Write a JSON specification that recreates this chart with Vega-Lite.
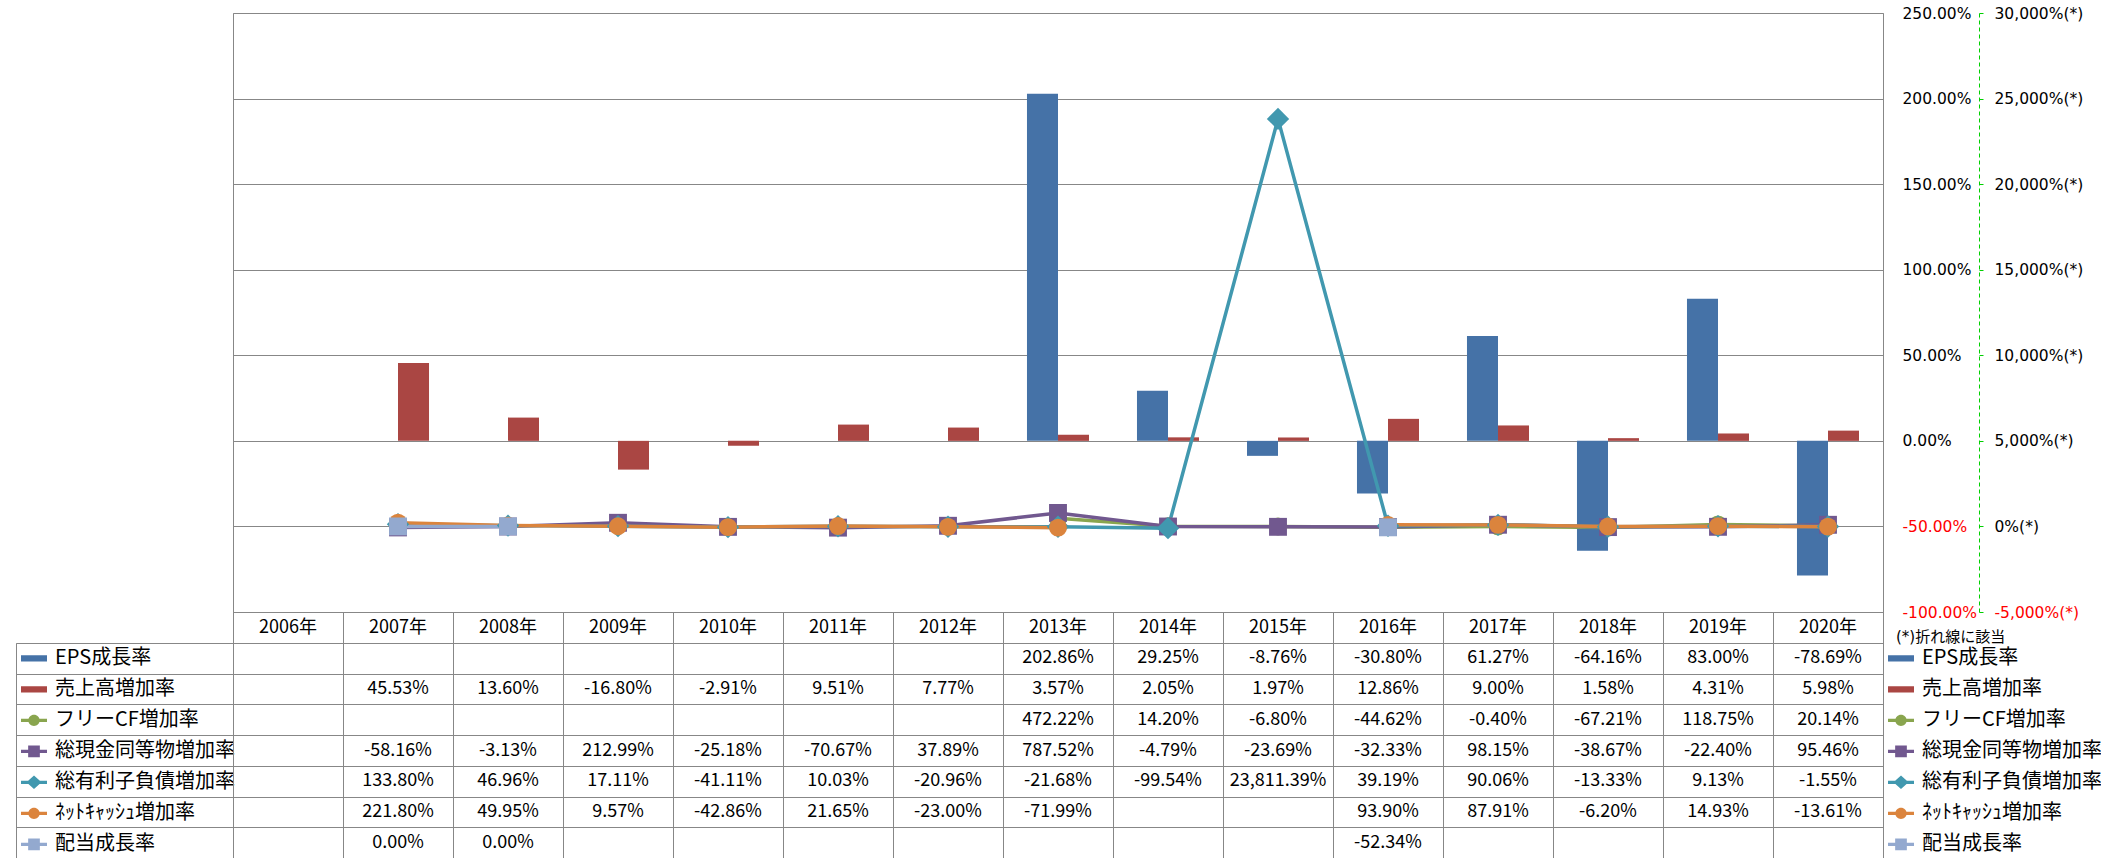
{
  "$schema": "https://vega.github.io/schema/vega-lite/v6.json",
  "padding": {"left": 15, "top": 5, "right": 0, "bottom": 0},
  "background": "white",
  "columns": 3,
  "align": "each",
  "bounds": "flush",
  "spacing": 0,
  "datasets": {
    "d": [
      {"series": "EPS成長率", "year": "2006年", "value": null},
      {"series": "EPS成長率", "year": "2007年", "value": null},
      {"series": "EPS成長率", "year": "2008年", "value": null},
      {"series": "EPS成長率", "year": "2009年", "value": null},
      {"series": "EPS成長率", "year": "2010年", "value": null},
      {"series": "EPS成長率", "year": "2011年", "value": null},
      {"series": "EPS成長率", "year": "2012年", "value": null},
      {"series": "EPS成長率", "year": "2013年", "value": 202.86},
      {"series": "EPS成長率", "year": "2014年", "value": 29.25},
      {"series": "EPS成長率", "year": "2015年", "value": -8.76},
      {"series": "EPS成長率", "year": "2016年", "value": -30.80},
      {"series": "EPS成長率", "year": "2017年", "value": 61.27},
      {"series": "EPS成長率", "year": "2018年", "value": -64.16},
      {"series": "EPS成長率", "year": "2019年", "value": 83.00},
      {"series": "EPS成長率", "year": "2020年", "value": -78.69},
      {"series": "売上高増加率", "year": "2006年", "value": null},
      {"series": "売上高増加率", "year": "2007年", "value": 45.53},
      {"series": "売上高増加率", "year": "2008年", "value": 13.60},
      {"series": "売上高増加率", "year": "2009年", "value": -16.80},
      {"series": "売上高増加率", "year": "2010年", "value": -2.91},
      {"series": "売上高増加率", "year": "2011年", "value": 9.51},
      {"series": "売上高増加率", "year": "2012年", "value": 7.77},
      {"series": "売上高増加率", "year": "2013年", "value": 3.57},
      {"series": "売上高増加率", "year": "2014年", "value": 2.05},
      {"series": "売上高増加率", "year": "2015年", "value": 1.97},
      {"series": "売上高増加率", "year": "2016年", "value": 12.86},
      {"series": "売上高増加率", "year": "2017年", "value": 9.00},
      {"series": "売上高増加率", "year": "2018年", "value": 1.58},
      {"series": "売上高増加率", "year": "2019年", "value": 4.31},
      {"series": "売上高増加率", "year": "2020年", "value": 5.98},
      {"series": "フリーCF増加率", "year": "2006年", "value": null},
      {"series": "フリーCF増加率", "year": "2007年", "value": null},
      {"series": "フリーCF増加率", "year": "2008年", "value": null},
      {"series": "フリーCF増加率", "year": "2009年", "value": null},
      {"series": "フリーCF増加率", "year": "2010年", "value": null},
      {"series": "フリーCF増加率", "year": "2011年", "value": null},
      {"series": "フリーCF増加率", "year": "2012年", "value": null},
      {"series": "フリーCF増加率", "year": "2013年", "value": 472.22},
      {"series": "フリーCF増加率", "year": "2014年", "value": 14.20},
      {"series": "フリーCF増加率", "year": "2015年", "value": -6.80},
      {"series": "フリーCF増加率", "year": "2016年", "value": -44.62},
      {"series": "フリーCF増加率", "year": "2017年", "value": -0.40},
      {"series": "フリーCF増加率", "year": "2018年", "value": -67.21},
      {"series": "フリーCF増加率", "year": "2019年", "value": 118.75},
      {"series": "フリーCF増加率", "year": "2020年", "value": 20.14},
      {"series": "総現金同等物増加率", "year": "2006年", "value": null},
      {"series": "総現金同等物増加率", "year": "2007年", "value": -58.16},
      {"series": "総現金同等物増加率", "year": "2008年", "value": -3.13},
      {"series": "総現金同等物増加率", "year": "2009年", "value": 212.99},
      {"series": "総現金同等物増加率", "year": "2010年", "value": -25.18},
      {"series": "総現金同等物増加率", "year": "2011年", "value": -70.67},
      {"series": "総現金同等物増加率", "year": "2012年", "value": 37.89},
      {"series": "総現金同等物増加率", "year": "2013年", "value": 787.52},
      {"series": "総現金同等物増加率", "year": "2014年", "value": -4.79},
      {"series": "総現金同等物増加率", "year": "2015年", "value": -23.69},
      {"series": "総現金同等物増加率", "year": "2016年", "value": -32.33},
      {"series": "総現金同等物増加率", "year": "2017年", "value": 98.15},
      {"series": "総現金同等物増加率", "year": "2018年", "value": -38.67},
      {"series": "総現金同等物増加率", "year": "2019年", "value": -22.40},
      {"series": "総現金同等物増加率", "year": "2020年", "value": 95.46},
      {"series": "総有利子負債増加率", "year": "2006年", "value": null},
      {"series": "総有利子負債増加率", "year": "2007年", "value": 133.80},
      {"series": "総有利子負債増加率", "year": "2008年", "value": 46.96},
      {"series": "総有利子負債増加率", "year": "2009年", "value": 17.11},
      {"series": "総有利子負債増加率", "year": "2010年", "value": -41.11},
      {"series": "総有利子負債増加率", "year": "2011年", "value": 10.03},
      {"series": "総有利子負債増加率", "year": "2012年", "value": -20.96},
      {"series": "総有利子負債増加率", "year": "2013年", "value": -21.68},
      {"series": "総有利子負債増加率", "year": "2014年", "value": -99.54},
      {"series": "総有利子負債増加率", "year": "2015年", "value": 23811.39},
      {"series": "総有利子負債増加率", "year": "2016年", "value": 39.19},
      {"series": "総有利子負債増加率", "year": "2017年", "value": 90.06},
      {"series": "総有利子負債増加率", "year": "2018年", "value": -13.33},
      {"series": "総有利子負債増加率", "year": "2019年", "value": 9.13},
      {"series": "総有利子負債増加率", "year": "2020年", "value": -1.55},
      {"series": "ﾈｯﾄｷｬｯｼｭ増加率", "year": "2006年", "value": null},
      {"series": "ﾈｯﾄｷｬｯｼｭ増加率", "year": "2007年", "value": 221.80},
      {"series": "ﾈｯﾄｷｬｯｼｭ増加率", "year": "2008年", "value": 49.95},
      {"series": "ﾈｯﾄｷｬｯｼｭ増加率", "year": "2009年", "value": 9.57},
      {"series": "ﾈｯﾄｷｬｯｼｭ増加率", "year": "2010年", "value": -42.86},
      {"series": "ﾈｯﾄｷｬｯｼｭ増加率", "year": "2011年", "value": 21.65},
      {"series": "ﾈｯﾄｷｬｯｼｭ増加率", "year": "2012年", "value": -23.00},
      {"series": "ﾈｯﾄｷｬｯｼｭ増加率", "year": "2013年", "value": -71.99},
      {"series": "ﾈｯﾄｷｬｯｼｭ増加率", "year": "2014年", "value": null},
      {"series": "ﾈｯﾄｷｬｯｼｭ増加率", "year": "2015年", "value": null},
      {"series": "ﾈｯﾄｷｬｯｼｭ増加率", "year": "2016年", "value": 93.90},
      {"series": "ﾈｯﾄｷｬｯｼｭ増加率", "year": "2017年", "value": 87.91},
      {"series": "ﾈｯﾄｷｬｯｼｭ増加率", "year": "2018年", "value": -6.20},
      {"series": "ﾈｯﾄｷｬｯｼｭ増加率", "year": "2019年", "value": 14.93},
      {"series": "ﾈｯﾄｷｬｯｼｭ増加率", "year": "2020年", "value": -13.61},
      {"series": "配当成長率", "year": "2006年", "value": null},
      {"series": "配当成長率", "year": "2007年", "value": 0.00},
      {"series": "配当成長率", "year": "2008年", "value": 0.00},
      {"series": "配当成長率", "year": "2009年", "value": null},
      {"series": "配当成長率", "year": "2010年", "value": null},
      {"series": "配当成長率", "year": "2011年", "value": null},
      {"series": "配当成長率", "year": "2012年", "value": null},
      {"series": "配当成長率", "year": "2013年", "value": null},
      {"series": "配当成長率", "year": "2014年", "value": null},
      {"series": "配当成長率", "year": "2015年", "value": null},
      {"series": "配当成長率", "year": "2016年", "value": -52.34},
      {"series": "配当成長率", "year": "2017年", "value": null},
      {"series": "配当成長率", "year": "2018年", "value": null},
      {"series": "配当成長率", "year": "2019年", "value": null},
      {"series": "配当成長率", "year": "2020年", "value": null}
    ]
  },
  "concat": [
    {
      "width": 217, "height": 599,
      "data": {"values": [{}]},
      "mark": {"type": "text"},
      "encoding": {"text": {"value": ""}}
    },
    {
      "width": 1650, "height": 599,
      "view": {"stroke": "#878787", "strokeWidth": 1},
      "data": {"name": "d"},
      "layer": [
        {
          "transform": [
            {"filter": "datum.series === 'EPS成長率' || datum.series === '売上高増加率'"},
            {"filter": "isValid(datum.value)"}
          ],
          "mark": {"type": "bar"},
          "encoding": {
            "x": {"field": "year", "type": "nominal", "axis": null,
              "scale": {"domain": ["2006年","2007年","2008年","2009年","2010年","2011年","2012年","2013年","2014年","2015年","2016年","2017年","2018年","2019年","2020年"], "paddingInner": 0.436, "paddingOuter": 0.218}},
            "xOffset": {"field": "series", "type": "nominal", "scale": {"domain": ["EPS成長率", "売上高増加率"], "paddingInner": 0, "paddingOuter": 0}},
            "y": {"field": "value", "type": "quantitative",
              "scale": {"domain": [-100, 250], "nice": false},
              "axis": {
                "orient": "right", "title": null, "domain": false, "ticks": false,
                "grid": true, "gridColor": "#878787", "gridWidth": 1,
                "values": [-100, -50, 0, 50, 100, 150, 200, 250],
                "labelExpr": "format(datum.value, '.2f') + '%'",
                "labelPadding": 19, "labelFont": "DejaVu Sans", "labelFontSize": 15.5, "labelAlign": "left",
                "labelColor": {"condition": {"test": "datum.value < 0", "value": "#FF0000"}, "value": "#000000"},
                "labelFlush": false, "labelOverlap": false, "labelBound": false, "labelBaseline": "middle"
              }},
            "color": {"field": "series", "type": "nominal", "legend": null,
              "scale": {"domain": ["EPS成長率","売上高増加率","フリーCF増加率","総現金同等物増加率","総有利子負債増加率","ﾈｯﾄｷｬｯｼｭ増加率","配当成長率"],
                        "range": ["#4572A7","#AA4643","#89A54E","#71588F","#4198AF","#DB843D","#93A9CF"]}}
          }
        },
        {
          "transform": [
            {"filter": "datum.series !== 'EPS成長率' && datum.series !== '売上高増加率'"}
          ],
          "encoding": {
            "x": {"field": "year", "type": "nominal", "axis": null},
            "y": {"field": "value", "type": "quantitative",
              "scale": {"domain": [-5000, 30000], "nice": false},
              "axis": {
                "orient": "right", "offset": 96, "title": null, "grid": false,
                "domain": true, "domainColor": "#00D000", "domainDash": [4, 3], "domainWidth": 1,
                "ticks": true, "tickColor": "#00D000", "tickSize": 4, "tickWidth": 1,
                "values": [-5000, 0, 5000, 10000, 15000, 20000, 25000, 30000],
                "labelExpr": "format(datum.value, ',') + '%(*)'",
                "labelPadding": 11, "labelFont": "DejaVu Sans", "labelFontSize": 15.5, "labelAlign": "left",
                "labelColor": {"condition": {"test": "datum.value < 0", "value": "#FF0000"}, "value": "#000000"},
                "labelFlush": false, "labelOverlap": false, "labelBound": false, "labelBaseline": "middle"
              }},
            "color": {"field": "series", "type": "nominal", "legend": null}
          },
          "layer": [
            {
              "mark": {"type": "line", "strokeWidth": 3.5, "strokeJoin": "round", "strokeCap": "round"}
            },
            {
              "transform": [{"filter": "isValid(datum.value)"}],
              "mark": {"type": "point", "filled": true, "size": 320, "opacity": 1},
              "encoding": {
                "shape": {"field": "series", "type": "nominal", "legend": null,
                  "scale": {"domain": ["フリーCF増加率","総現金同等物増加率","総有利子負債増加率","ﾈｯﾄｷｬｯｼｭ増加率","配当成長率"],
                            "range": ["circle", "square", "M0,-1.25L1.25,0L0,1.25L-1.25,0Z", "circle", "square"]}}
              }
            }
          ]
        }
      ],
      "resolve": {"scale": {"y": "independent"}}
    },
    {
      "width": 219, "height": 599,
      "data": {"values": [{}]},
      "mark": {"type": "text"},
      "encoding": {"text": {"value": ""}}
    },
    {
      "width": 217, "height": 31,
      "data": {"values": [{}]},
      "mark": {"type": "text"},
      "encoding": {"text": {"value": ""}}
    },
    {
      "width": 1650, "height": 31,
      "view": {"stroke": "#878787", "strokeWidth": 1},
      "data": {"name": "d"},
      "transform": [{"filter": "datum.series === 'EPS成長率'"}],
      "mark": {"type": "text", "font": "Noto Sans CJK JP", "fontSize": 18, "baseline": "middle", "align": "center", "color": "#000000"},
      "encoding": {
        "x": {"field": "year", "type": "nominal",
          "scale": {"domain": ["2006年","2007年","2008年","2009年","2010年","2011年","2012年","2013年","2014年","2015年","2016年","2017年","2018年","2019年","2020年"], "paddingInner": 0, "paddingOuter": 0},
          "axis": {"labels": false, "ticks": false, "domain": false, "grid": true, "gridColor": "#878787", "gridWidth": 1, "tickBand": "extent", "title": null}},
        "text": {"field": "year", "type": "nominal"}
      }
    },
    {
      "width": 219, "height": 31,
      "data": {"values": [{}]},
      "mark": {"type": "text"},
      "encoding": {"text": {"value": ""}},
      "title": {"text": "(*)折れ線に該当", "orient": "top", "anchor": "start", "frame": "group", "offset": -21, "baseline": "middle", "dx": 13, "dy": 19, "font": "DejaVu Sans, Noto Sans CJK JP", "fontSize": 15, "fontWeight": "normal", "color": "#000000"}
    },
    {
      "width": 217, "height": 215,
      "view": {"stroke": "#878787", "strokeWidth": 1},
      "data": {"name": "d"},
      "transform": [{"filter": "datum.year === '2006年'"}],
      "mark": {"type": "point", "filled": true, "size": 0},
      "encoding": {
        "y": {"field": "series", "type": "nominal",
          "scale": {"domain": ["EPS成長率","売上高増加率","フリーCF増加率","総現金同等物増加率","総有利子負債増加率","ﾈｯﾄｷｬｯｼｭ増加率","配当成長率"], "paddingInner": 0, "paddingOuter": 0},
          "axis": {"labels": false, "ticks": false, "domain": false, "grid": true, "gridColor": "#878787", "gridWidth": 1, "tickBand": "extent", "title": null}},
        "color": {"field": "series", "type": "nominal",
          "scale": {"domain": ["EPS成長率","売上高増加率","フリーCF増加率","総現金同等物増加率","総有利子負債増加率","ﾈｯﾄｷｬｯｼｭ増加率","配当成長率"],
                    "range": ["#4572A7","#AA4643","#89A54E","#71588F","#4198AF","#DB843D","#93A9CF"]}},
        "shape": {"field": "series", "type": "nominal",
          "scale": {"domain": ["EPS成長率","売上高増加率","フリーCF増加率","総現金同等物増加率","総有利子負債増加率","ﾈｯﾄｷｬｯｼｭ増加率","配当成長率"],
                    "range": [
                      "M-1,-0.24H1V0.24H-1Z",
                      "M-1,-0.24H1V0.24H-1Z",
                      "M-1,-0.13H1V0.13H-1Z M-0.44,0A0.44,0.44 0 1,1 0.44,0A0.44,0.44 0 1,1 -0.44,0Z",
                      "M-1,-0.13H1V0.13H-1Z M-0.45,-0.45H0.45V0.45H-0.45Z",
                      "M-1,-0.13H1V0.13H-1Z M0,-0.52L0.58,0L0,0.52L-0.58,0Z",
                      "M-1,-0.13H1V0.13H-1Z M-0.44,0A0.44,0.44 0 1,1 0.44,0A0.44,0.44 0 1,1 -0.44,0Z",
                      "M-1,-0.13H1V0.13H-1Z M-0.45,-0.45H0.45V0.45H-0.45Z"
                    ]}}
      }
    },
    {
      "width": 1650, "height": 215,
      "view": {"stroke": "#878787", "strokeWidth": 1},
      "data": {"name": "d"},
      "transform": [
        {"filter": "isValid(datum.value)"},
        {"calculate": "format(datum.value, ',.2f') + '%'", "as": "label"}
      ],
      "mark": {"type": "text", "font": "Noto Sans CJK JP", "fontSize": 18, "baseline": "middle", "align": "center", "color": "#000000"},
      "encoding": {
        "x": {"field": "year", "type": "nominal",
          "scale": {"domain": ["2006年","2007年","2008年","2009年","2010年","2011年","2012年","2013年","2014年","2015年","2016年","2017年","2018年","2019年","2020年"], "paddingInner": 0, "paddingOuter": 0},
          "axis": {"labels": false, "ticks": false, "domain": false, "grid": true, "gridColor": "#878787", "gridWidth": 1, "tickBand": "extent", "title": null}},
        "y": {"field": "series", "type": "nominal",
          "scale": {"domain": ["EPS成長率","売上高増加率","フリーCF増加率","総現金同等物増加率","総有利子負債増加率","ﾈｯﾄｷｬｯｼｭ増加率","配当成長率"], "paddingInner": 0, "paddingOuter": 0},
          "axis": {"labels": false, "ticks": false, "domain": false, "grid": true, "gridColor": "#878787", "gridWidth": 1, "tickBand": "extent", "title": null}},
        "text": {"field": "label", "type": "nominal"}
      }
    },
    {
      "width": 219, "height": 215,
      "data": {"name": "d"},
      "transform": [{"filter": "datum.year === '2006年'"}],
      "mark": {"type": "point", "filled": true, "size": 0},
      "encoding": {
        "y": {"field": "series", "type": "nominal",
          "scale": {"domain": ["EPS成長率","売上高増加率","フリーCF増加率","総現金同等物増加率","総有利子負債増加率","ﾈｯﾄｷｬｯｼｭ増加率","配当成長率"], "paddingInner": 0, "paddingOuter": 0},
          "axis": null},
        "color": {"field": "series", "type": "nominal",
          "scale": {"domain": ["EPS成長率","売上高増加率","フリーCF増加率","総現金同等物増加率","総有利子負債増加率","ﾈｯﾄｷｬｯｼｭ増加率","配当成長率"],
                    "range": ["#4572A7","#AA4643","#89A54E","#71588F","#4198AF","#DB843D","#93A9CF"]}},
        "shape": {"field": "series", "type": "nominal",
          "scale": {"domain": ["EPS成長率","売上高増加率","フリーCF増加率","総現金同等物増加率","総有利子負債増加率","ﾈｯﾄｷｬｯｼｭ増加率","配当成長率"],
                    "range": [
                      "M-1,-0.24H1V0.24H-1Z",
                      "M-1,-0.24H1V0.24H-1Z",
                      "M-1,-0.13H1V0.13H-1Z M-0.44,0A0.44,0.44 0 1,1 0.44,0A0.44,0.44 0 1,1 -0.44,0Z",
                      "M-1,-0.13H1V0.13H-1Z M-0.45,-0.45H0.45V0.45H-0.45Z",
                      "M-1,-0.13H1V0.13H-1Z M0,-0.52L0.58,0L0,0.52L-0.58,0Z",
                      "M-1,-0.13H1V0.13H-1Z M-0.44,0A0.44,0.44 0 1,1 0.44,0A0.44,0.44 0 1,1 -0.44,0Z",
                      "M-1,-0.13H1V0.13H-1Z M-0.45,-0.45H0.45V0.45H-0.45Z"
                    ]}}
      }
    }
  ],
  "resolve": {
    "scale": {"color": "independent", "shape": "independent", "x": "independent", "y": "independent"},
    "legend": {"color": "independent", "shape": "independent"}
  },
  "config": {
    "view": {"stroke": null},
    "locale": {"number": {"decimal": ".", "thousands": ",", "grouping": [3], "currency": ["$", ""], "minus": "-"}},
    "legend": {
      "title": null, "orient": "top-left", "offset": 0, "padding": 0,
      "symbolSize": 676, "symbolStrokeWidth": 0, "symbolOffset": 5, "symbolOpacity": 1,
      "labelOffset": 8, "labelFont": "Noto Sans CJK JP", "labelFontSize": 20,
      "labelColor": "#000000", "labelLimit": 400, "clipHeight": 30.7, "rowPadding": 0
    }
  }
}
